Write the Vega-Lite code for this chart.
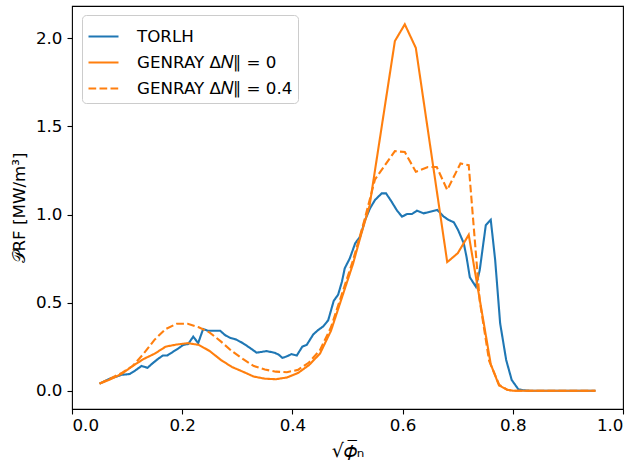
{
  "$schema": "https://vega.github.io/schema/vega-lite/v6.json",
  "width": 551,
  "height": 403,
  "autosize": "none",
  "padding": {"left": 72, "top": 6, "right": 13, "bottom": 60},
  "config": {
    "font": "DejaVu Sans",
    "view": {"stroke": "black", "strokeWidth": 1.1},
    "axis": {"domain": false, "grid": false, "tickColor": "black", "tickSize": 5, "tickWidth": 1.1,
      "labelFontSize": 16.7, "labelColor": "black", "titleFontSize": 16.7, "titleColor": "black",
      "titleFontWeight": "normal", "labelPadding": 5, "labelFont": "DejaVu Sans", "titleFont": "DejaVu Sans"},
    "legend": {"orient": "none", "legendX": 10, "legendY": 9, "symbolType": "stroke", "symbolSize": 900,
      "symbolStrokeWidth": 2.1, "labelFontSize": 16.7, "labelColor": "black", "labelFont": "DejaVu Sans",
      "padding": 5, "fillColor": "rgba(255,255,255,0.8)", "strokeColor": "#cccccc", "cornerRadius": 4,
      "rowPadding": -6, "labelOffset": 17, "labelLimit": 400}
  },
  "data": {"values": [
    {"s": "TORLH", "x": 0.05, "y": 0.04},
    {"s": "TORLH", "x": 0.06, "y": 0.055},
    {"s": "TORLH", "x": 0.07, "y": 0.07},
    {"s": "TORLH", "x": 0.081, "y": 0.08},
    {"s": "TORLH", "x": 0.09, "y": 0.09},
    {"s": "TORLH", "x": 0.1, "y": 0.093},
    {"s": "TORLH", "x": 0.105, "y": 0.095},
    {"s": "TORLH", "x": 0.115, "y": 0.115},
    {"s": "TORLH", "x": 0.126, "y": 0.14},
    {"s": "TORLH", "x": 0.137, "y": 0.13},
    {"s": "TORLH", "x": 0.146, "y": 0.155},
    {"s": "TORLH", "x": 0.156, "y": 0.18},
    {"s": "TORLH", "x": 0.165, "y": 0.2},
    {"s": "TORLH", "x": 0.173, "y": 0.2},
    {"s": "TORLH", "x": 0.183, "y": 0.22},
    {"s": "TORLH", "x": 0.193, "y": 0.24},
    {"s": "TORLH", "x": 0.202, "y": 0.26},
    {"s": "TORLH", "x": 0.211, "y": 0.265},
    {"s": "TORLH", "x": 0.22, "y": 0.307},
    {"s": "TORLH", "x": 0.229, "y": 0.27},
    {"s": "TORLH", "x": 0.238, "y": 0.35},
    {"s": "TORLH", "x": 0.247, "y": 0.34},
    {"s": "TORLH", "x": 0.258, "y": 0.34},
    {"s": "TORLH", "x": 0.269, "y": 0.34},
    {"s": "TORLH", "x": 0.278, "y": 0.315},
    {"s": "TORLH", "x": 0.287, "y": 0.3},
    {"s": "TORLH", "x": 0.298, "y": 0.29},
    {"s": "TORLH", "x": 0.31, "y": 0.27},
    {"s": "TORLH", "x": 0.322, "y": 0.245},
    {"s": "TORLH", "x": 0.335, "y": 0.216},
    {"s": "TORLH", "x": 0.344, "y": 0.22},
    {"s": "TORLH", "x": 0.353, "y": 0.225},
    {"s": "TORLH", "x": 0.368, "y": 0.215},
    {"s": "TORLH", "x": 0.375, "y": 0.205},
    {"s": "TORLH", "x": 0.382, "y": 0.186},
    {"s": "TORLH", "x": 0.39, "y": 0.195},
    {"s": "TORLH", "x": 0.398, "y": 0.207},
    {"s": "TORLH", "x": 0.408, "y": 0.2},
    {"s": "TORLH", "x": 0.418, "y": 0.25},
    {"s": "TORLH", "x": 0.426, "y": 0.26},
    {"s": "TORLH", "x": 0.438, "y": 0.32},
    {"s": "TORLH", "x": 0.447, "y": 0.345},
    {"s": "TORLH", "x": 0.456, "y": 0.365},
    {"s": "TORLH", "x": 0.465, "y": 0.4},
    {"s": "TORLH", "x": 0.475, "y": 0.51},
    {"s": "TORLH", "x": 0.483, "y": 0.545},
    {"s": "TORLH", "x": 0.49, "y": 0.62},
    {"s": "TORLH", "x": 0.495, "y": 0.695},
    {"s": "TORLH", "x": 0.504, "y": 0.75},
    {"s": "TORLH", "x": 0.514, "y": 0.837},
    {"s": "TORLH", "x": 0.523, "y": 0.875},
    {"s": "TORLH", "x": 0.532, "y": 0.97},
    {"s": "TORLH", "x": 0.541, "y": 1.036},
    {"s": "TORLH", "x": 0.55, "y": 1.083},
    {"s": "TORLH", "x": 0.562, "y": 1.12},
    {"s": "TORLH", "x": 0.57, "y": 1.12},
    {"s": "TORLH", "x": 0.58, "y": 1.073},
    {"s": "TORLH", "x": 0.59, "y": 1.022},
    {"s": "TORLH", "x": 0.599, "y": 0.988},
    {"s": "TORLH", "x": 0.608, "y": 1.003},
    {"s": "TORLH", "x": 0.617, "y": 1.003},
    {"s": "TORLH", "x": 0.626, "y": 1.022},
    {"s": "TORLH", "x": 0.638, "y": 1.007},
    {"s": "TORLH", "x": 0.65, "y": 1.016},
    {"s": "TORLH", "x": 0.663, "y": 1.026},
    {"s": "TORLH", "x": 0.674, "y": 0.99},
    {"s": "TORLH", "x": 0.683, "y": 0.97},
    {"s": "TORLH", "x": 0.693, "y": 0.956},
    {"s": "TORLH", "x": 0.701, "y": 0.91},
    {"s": "TORLH", "x": 0.711, "y": 0.837},
    {"s": "TORLH", "x": 0.716, "y": 0.76},
    {"s": "TORLH", "x": 0.722, "y": 0.644},
    {"s": "TORLH", "x": 0.733, "y": 0.59},
    {"s": "TORLH", "x": 0.74, "y": 0.685},
    {"s": "TORLH", "x": 0.751, "y": 0.94},
    {"s": "TORLH", "x": 0.76, "y": 0.97},
    {"s": "TORLH", "x": 0.768, "y": 0.742},
    {"s": "TORLH", "x": 0.777, "y": 0.383},
    {"s": "TORLH", "x": 0.788, "y": 0.174},
    {"s": "TORLH", "x": 0.798, "y": 0.061},
    {"s": "TORLH", "x": 0.81, "y": 0.008},
    {"s": "TORLH", "x": 0.82, "y": 0.002},
    {"s": "TORLH", "x": 0.83, "y": 0},
    {"s": "TORLH", "x": 0.9, "y": 0},
    {"s": "TORLH", "x": 0.95, "y": 0},
    {"s": "GENRAY Δ𝑁∥ = 0", "x": 0.05, "y": 0.04},
    {"s": "GENRAY Δ𝑁∥ = 0", "x": 0.07, "y": 0.065},
    {"s": "GENRAY Δ𝑁∥ = 0", "x": 0.09, "y": 0.095},
    {"s": "GENRAY Δ𝑁∥ = 0", "x": 0.11, "y": 0.14},
    {"s": "GENRAY Δ𝑁∥ = 0", "x": 0.13, "y": 0.18},
    {"s": "GENRAY Δ𝑁∥ = 0", "x": 0.15, "y": 0.21},
    {"s": "GENRAY Δ𝑁∥ = 0", "x": 0.17, "y": 0.25},
    {"s": "GENRAY Δ𝑁∥ = 0", "x": 0.19, "y": 0.262},
    {"s": "GENRAY Δ𝑁∥ = 0", "x": 0.21, "y": 0.27},
    {"s": "GENRAY Δ𝑁∥ = 0", "x": 0.23, "y": 0.26},
    {"s": "GENRAY Δ𝑁∥ = 0", "x": 0.25, "y": 0.225},
    {"s": "GENRAY Δ𝑁∥ = 0", "x": 0.27, "y": 0.175},
    {"s": "GENRAY Δ𝑁∥ = 0", "x": 0.29, "y": 0.135},
    {"s": "GENRAY Δ𝑁∥ = 0", "x": 0.31, "y": 0.108},
    {"s": "GENRAY Δ𝑁∥ = 0", "x": 0.33, "y": 0.08},
    {"s": "GENRAY Δ𝑁∥ = 0", "x": 0.35, "y": 0.068},
    {"s": "GENRAY Δ𝑁∥ = 0", "x": 0.37, "y": 0.065},
    {"s": "GENRAY Δ𝑁∥ = 0", "x": 0.39, "y": 0.075},
    {"s": "GENRAY Δ𝑁∥ = 0", "x": 0.41, "y": 0.1},
    {"s": "GENRAY Δ𝑁∥ = 0", "x": 0.43, "y": 0.145},
    {"s": "GENRAY Δ𝑁∥ = 0", "x": 0.45, "y": 0.21},
    {"s": "GENRAY Δ𝑁∥ = 0", "x": 0.47, "y": 0.34},
    {"s": "GENRAY Δ𝑁∥ = 0", "x": 0.49, "y": 0.53},
    {"s": "GENRAY Δ𝑁∥ = 0", "x": 0.51, "y": 0.72},
    {"s": "GENRAY Δ𝑁∥ = 0", "x": 0.525, "y": 0.89},
    {"s": "GENRAY Δ𝑁∥ = 0", "x": 0.54, "y": 1.05},
    {"s": "GENRAY Δ𝑁∥ = 0", "x": 0.586, "y": 1.985},
    {"s": "GENRAY Δ𝑁∥ = 0", "x": 0.604, "y": 2.08},
    {"s": "GENRAY Δ𝑁∥ = 0", "x": 0.624, "y": 1.946},
    {"s": "GENRAY Δ𝑁∥ = 0", "x": 0.681, "y": 0.73},
    {"s": "GENRAY Δ𝑁∥ = 0", "x": 0.7, "y": 0.78},
    {"s": "GENRAY Δ𝑁∥ = 0", "x": 0.72, "y": 0.885},
    {"s": "GENRAY Δ𝑁∥ = 0", "x": 0.76, "y": 0.15},
    {"s": "GENRAY Δ𝑁∥ = 0", "x": 0.775, "y": 0.03},
    {"s": "GENRAY Δ𝑁∥ = 0", "x": 0.79, "y": 0.005},
    {"s": "GENRAY Δ𝑁∥ = 0", "x": 0.8, "y": 0},
    {"s": "GENRAY Δ𝑁∥ = 0", "x": 0.9, "y": 0},
    {"s": "GENRAY Δ𝑁∥ = 0", "x": 0.95, "y": 0},
    {"s": "GENRAY Δ𝑁∥ = 0.4", "x": 0.05, "y": 0.04},
    {"s": "GENRAY Δ𝑁∥ = 0.4", "x": 0.07, "y": 0.07},
    {"s": "GENRAY Δ𝑁∥ = 0.4", "x": 0.09, "y": 0.1},
    {"s": "GENRAY Δ𝑁∥ = 0.4", "x": 0.11, "y": 0.14},
    {"s": "GENRAY Δ𝑁∥ = 0.4", "x": 0.13, "y": 0.21},
    {"s": "GENRAY Δ𝑁∥ = 0.4", "x": 0.15, "y": 0.29},
    {"s": "GENRAY Δ𝑁∥ = 0.4", "x": 0.17, "y": 0.35},
    {"s": "GENRAY Δ𝑁∥ = 0.4", "x": 0.19, "y": 0.38},
    {"s": "GENRAY Δ𝑁∥ = 0.4", "x": 0.21, "y": 0.38},
    {"s": "GENRAY Δ𝑁∥ = 0.4", "x": 0.23, "y": 0.36},
    {"s": "GENRAY Δ𝑁∥ = 0.4", "x": 0.25, "y": 0.33},
    {"s": "GENRAY Δ𝑁∥ = 0.4", "x": 0.27, "y": 0.28},
    {"s": "GENRAY Δ𝑁∥ = 0.4", "x": 0.29, "y": 0.225},
    {"s": "GENRAY Δ𝑁∥ = 0.4", "x": 0.31, "y": 0.18},
    {"s": "GENRAY Δ𝑁∥ = 0.4", "x": 0.33, "y": 0.14},
    {"s": "GENRAY Δ𝑁∥ = 0.4", "x": 0.35, "y": 0.12},
    {"s": "GENRAY Δ𝑁∥ = 0.4", "x": 0.37, "y": 0.108},
    {"s": "GENRAY Δ𝑁∥ = 0.4", "x": 0.39, "y": 0.105},
    {"s": "GENRAY Δ𝑁∥ = 0.4", "x": 0.41, "y": 0.118},
    {"s": "GENRAY Δ𝑁∥ = 0.4", "x": 0.43, "y": 0.16},
    {"s": "GENRAY Δ𝑁∥ = 0.4", "x": 0.45, "y": 0.23},
    {"s": "GENRAY Δ𝑁∥ = 0.4", "x": 0.47, "y": 0.36},
    {"s": "GENRAY Δ𝑁∥ = 0.4", "x": 0.49, "y": 0.55},
    {"s": "GENRAY Δ𝑁∥ = 0.4", "x": 0.51, "y": 0.74},
    {"s": "GENRAY Δ𝑁∥ = 0.4", "x": 0.53, "y": 0.96},
    {"s": "GENRAY Δ𝑁∥ = 0.4", "x": 0.55, "y": 1.2},
    {"s": "GENRAY Δ𝑁∥ = 0.4", "x": 0.586, "y": 1.36},
    {"s": "GENRAY Δ𝑁∥ = 0.4", "x": 0.604, "y": 1.355},
    {"s": "GENRAY Δ𝑁∥ = 0.4", "x": 0.624, "y": 1.243},
    {"s": "GENRAY Δ𝑁∥ = 0.4", "x": 0.646, "y": 1.27},
    {"s": "GENRAY Δ𝑁∥ = 0.4", "x": 0.662, "y": 1.27},
    {"s": "GENRAY Δ𝑁∥ = 0.4", "x": 0.681, "y": 1.14},
    {"s": "GENRAY Δ𝑁∥ = 0.4", "x": 0.705, "y": 1.29},
    {"s": "GENRAY Δ𝑁∥ = 0.4", "x": 0.72, "y": 1.28},
    {"s": "GENRAY Δ𝑁∥ = 0.4", "x": 0.74, "y": 0.51},
    {"s": "GENRAY Δ𝑁∥ = 0.4", "x": 0.757, "y": 0.17},
    {"s": "GENRAY Δ𝑁∥ = 0.4", "x": 0.775, "y": 0.035},
    {"s": "GENRAY Δ𝑁∥ = 0.4", "x": 0.79, "y": 0.005},
    {"s": "GENRAY Δ𝑁∥ = 0.4", "x": 0.8, "y": 0},
    {"s": "GENRAY Δ𝑁∥ = 0.4", "x": 0.9, "y": 0},
    {"s": "GENRAY Δ𝑁∥ = 0.4", "x": 0.95, "y": 0}
  ]},
  "mark": {"type": "line", "strokeWidth": 2.1, "clip": true},
  "encoding": {
    "x": {"field": "x", "type": "quantitative", "scale": {"domain": [0, 1], "nice": false, "zero": false},
      "axis": {"values": [0, 0.2, 0.4, 0.6, 0.8, 1.0], "format": ".1f", "title": "√𝜙̅ₙ", "titlePadding": 8, "titleFontSize": 19, "labelPadding": 3}},
    "y": {"field": "y", "type": "quantitative", "scale": {"domain": [-0.104, 2.184], "nice": false, "zero": false},
      "axis": {"values": [0, 0.5, 1, 1.5, 2], "format": ".1f", "title": "𝒫RF [MW/m³]", "titlePadding": 7}},
    "color": {"field": "s", "type": "nominal",
      "scale": {"domain": ["TORLH", "GENRAY Δ𝑁∥ = 0", "GENRAY Δ𝑁∥ = 0.4"], "range": ["#1f77b4", "#ff7f0e", "#ff7f0e"]},
      "legend": {"title": null}},
    "strokeDash": {"field": "s", "type": "nominal",
      "scale": {"domain": ["TORLH", "GENRAY Δ𝑁∥ = 0", "GENRAY Δ𝑁∥ = 0.4"], "range": [[1, 0], [1, 0], [7.7, 3.3]]},
      "legend": {"title": null}}
  }
}
